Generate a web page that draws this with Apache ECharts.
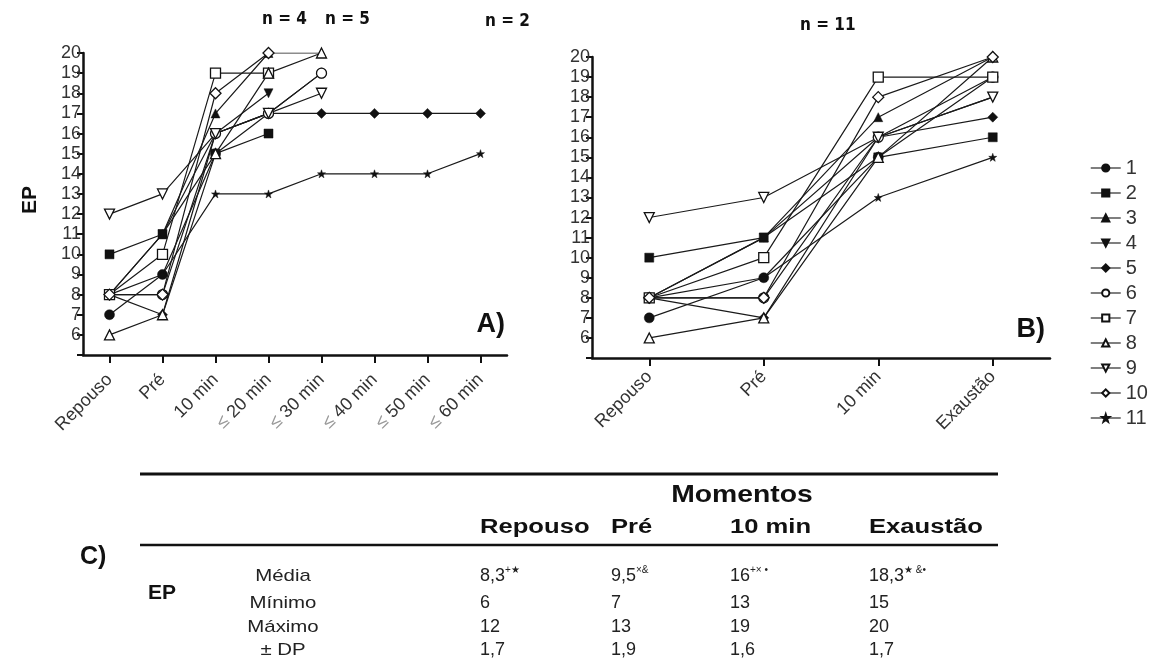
<!DOCTYPE html>
<html><head><meta charset="utf-8">
<script src="https://cdn.jsdelivr.net/npm/echarts@6/dist/echarts.min.js"></script>
<style>html,body{margin:0;padding:0;background:#fff}#c{width:1167px;height:662px}</style>
</head><body><div id="c"></div>
<script>
// ---------- DATA ----------
const categoriesA = ['Repouso', 'Pré', '10 min', '≤ 20 min', '≤ 30 min', '≤ 40 min', '≤ 50 min', '≤ 60 min'];
const categoriesB = ['Repouso', 'Pré', '10 min', 'Exaustão'];
const subjectNames = ['1','2','3','4','5','6','7','8','9','10','11'];
// Panel A: EP per subject over time (null = test ended)
const s1  = [7, 9, 15, 17, 19, null, null, null];
const s2  = [10, 11, 15, 16, null, null, null, null];
const s3  = [8, 11, 17, 20, 20, null, null, null];
const s4  = [8, 11, 16, 18, null, null, null, null];
const s5  = [8, 7, 16, 17, 17, 17, 17, 17];
const s6  = [8, 8, 16, 17, 19, null, null, null];
const s7  = [8, 10, 19, 19, null, null, null, null];
const s8  = [6, 7, 15, 19, 20, null, null, null];
const s9  = [12, 13, 16, 17, 18, null, null, null];
const s10 = [8, 8, 18, 20, null, null, null, null];
const s11 = [8, 9, 13, 13, 14, 14, 14, 15];
// Panel B: value at exhaustion per subject
const exaustao = [19, 16, 20, 18, 17, 19, 19, 20, 18, 20, 15];
// n labels
const nLabels = ['n = 4', 'n = 5', 'n = 2', 'n = 11'];
// Table C
const tableCols = ['Repouso', 'Pré', '10 min', 'Exaustão'];
const tableRows = ['Média', 'Mínimo', 'Máximo', '± DP'];
const media = ['8,3', '9,5', '16', '18,3'];
const mediaSup = ['+★', '×&', '+× •', '★ &•'];
const minimo = ['6', '7', '13', '15'];
const maximo = ['12', '13', '19', '20'];
const dp = ['1,7', '1,9', '1,6', '1,7'];

// ---------- STYLE ----------
const seriesA = [s1, s2, s3, s4, s5, s6, s7, s8, s9, s10, s11];
const STAR = 'path://M5,0 L6.2,3.6 L10,3.6 L7,5.9 L8.1,9.6 L5,7.4 L1.9,9.6 L3,5.9 L0,3.6 L3.8,3.6 Z';
const INV = 'path://M0,0 L10,0 L5,9 Z';
const markers = [
  {symbol: 'circle', open: false, size: 10},
  {symbol: 'rect', open: false, size: 9},
  {symbol: 'triangle', open: false, size: 9},
  {symbol: INV, open: false, size: 9},
  {symbol: 'diamond', open: false, size: 10},
  {symbol: 'circle', open: true, size: 10},
  {symbol: 'rect', open: true, size: 10},
  {symbol: 'triangle', open: true, size: 10},
  {symbol: INV, open: true, size: 10},
  {symbol: 'diamond', open: true, size: 11},
  {symbol: STAR, open: false, size: 8}
];
const LBL = "'Liberation Sans', Arial, sans-serif";
const NARROW = "'DejaVu Sans Condensed', 'Liberation Sans', sans-serif";

function makeSeries(idx, data, axisIdx) {
  const m = markers[idx];
  return {
    name: subjectNames[idx], type: 'line', xAxisIndex: axisIdx, yAxisIndex: axisIdx,
    data: data, symbol: m.symbol, symbolSize: m.size, showSymbol: true, connectNulls: false,
    lineStyle: {color: '#1a1a1a', width: 1.2},
    itemStyle: {color: m.open ? '#fff' : '#111', borderColor: '#111', borderWidth: m.open ? 1.3 : 0.5},
    emphasis: {disabled: true}, animation: false, z: m.open ? 3 : 2
  };
}

const series = [];
seriesA.forEach((d, i) => series.push(makeSeries(i, d, 0)));
seriesA.forEach((d, i) => series.push(makeSeries(i, [d[0], d[1], d[2], exaustao[i]], 1)));

function yAxis(gi) {
  return {
    type: 'value', gridIndex: gi, min: 5, max: 20, interval: 1,
    axisLine: {show: true, lineStyle: {color: '#111', width: 2.5}},
    axisTick: {show: true, length: 6, lineStyle: {color: '#111', width: 2}},
    axisLabel: {color: '#333', fontSize: 18, fontFamily: LBL, margin: 2,
      formatter: v => v === 5 ? '' : String(v)},
    splitLine: {show: false}
  };
}
function xAxis(gi, cats, rich, margin) {
  return {
    type: 'category', gridIndex: gi, data: cats, boundaryGap: true,
    axisLine: {show: true, lineStyle: {color: '#111', width: 2.5}},
    axisTick: {show: true, alignWithLabel: true, length: 8, lineStyle: {color: '#111', width: 2}},
    axisLabel: {color: '#333', fontSize: 18, fontFamily: LBL, rotate: 45, margin: margin, interval: 0,
      formatter: rich ? (v => v.startsWith('≤') ? '{le|≤}{t|' + v.slice(1) + '}' : '{t|' + v + '}') : undefined,
      rich: rich ? {le: {color: '#999', fontSize: 18, fontFamily: LBL}, t: {color: '#333', fontSize: 18, fontFamily: LBL}} : undefined
    },
    splitLine: {show: false}
  };
}

// ---------- GRAPHIC (texts & table) ----------
const g = [];
function txt(x, y, text, font, opts, sx) {
  g.push({type: 'text', x: x, y: y, silent: true, scaleX: sx || 1,
    style: Object.assign({text: text, font: font, fill: '#111', textAlign: 'left', textVerticalAlign: 'middle'}, opts || {})});
}
g.push({type: 'text', x: 30, y: 200, rotation: Math.PI / 2, silent: true,
  style: {text: 'EP', font: 'bold 21px ' + LBL, fill: '#111', textAlign: 'center', textVerticalAlign: 'middle'}});
txt(262, 20, nLabels[0], 'bold 17px ' + NARROW);
txt(325, 20, nLabels[1], 'bold 17px ' + NARROW);
txt(485, 22, nLabels[2], 'bold 17px ' + NARROW);
txt(800, 26, nLabels[3], 'bold 17px ' + NARROW);
txt(505, 325, 'A)', 'bold 27px ' + LBL, {textAlign: 'right'});
txt(1045, 330, 'B)', 'bold 27px ' + LBL, {textAlign: 'right'});

// table
g.push({type: 'line', silent: true, shape: {x1: 140, y1: 474, x2: 998, y2: 474}, style: {stroke: '#111', lineWidth: 3}});
g.push({type: 'line', silent: true, shape: {x1: 140, y1: 545, x2: 998, y2: 545}, style: {stroke: '#111', lineWidth: 2.5}});
txt(742, 495, 'Momentos', 'bold 24px ' + LBL, {textAlign: 'center'}, 1.18);
const colX = [480, 611, 730, 869];
tableCols.forEach((c, i) => txt(colX[i], 527, c, 'bold 20px ' + LBL, null, 1.28));
txt(80, 557, 'C)', 'bold 25px ' + LBL);
txt(148, 593, 'EP', 'bold 21px ' + LBL);
const rowY = [576, 603, 627, 650];
tableRows.forEach((r, i) => txt(283, rowY[i], r, '17px ' + LBL, {textAlign: 'center', fill: '#222'}, 1.2));
const rowsVals = [media, minimo, maximo, dp];
rowsVals.forEach((vals, ri) => {
  vals.forEach((v, ci) => {
    if (ri === 0) {
      g.push({type: 'text', x: colX[ci], y: rowY[0], silent: true,
        style: {text: '{v|' + v + '}{s|' + mediaSup[ci] + '}', textAlign: 'left', textVerticalAlign: 'middle',
          rich: {v: {font: '18px ' + LBL, fill: '#222', lineHeight: 22},
                 s: {font: '10px ' + LBL, fill: '#222', verticalAlign: 'top', lineHeight: 12}}}});
    } else {
      txt(colX[ci], rowY[ri], v, '18px ' + LBL, {fill: '#222'});
    }
  });
});

const option = {
  backgroundColor: '#fff',
  animation: false,
  grid: [
    {left: 83, right: 660, top: 53, bottom: 307, containLabel: false},
    {left: 592, right: 117, top: 57, bottom: 304, containLabel: false}
  ],
  xAxis: [xAxis(0, categoriesA, true, 22), xAxis(1, categoriesB, false, 16)],
  yAxis: [yAxis(0), yAxis(1)],
  legend: {
    data: subjectNames, orient: 'vertical', left: 1085, top: 153,
    itemWidth: 30, itemHeight: 9, itemGap: 5, selectedMode: false,
    lineStyle: {color: '#555', width: 1.5},
    textStyle: {fontSize: 20, fontFamily: LBL, color: '#333', lineHeight: 20}
  },
  series: series,
  graphic: g
};
const chart = echarts.init(document.getElementById('c'), null, {renderer: 'canvas'});
chart.setOption(option);
</script></body></html>
